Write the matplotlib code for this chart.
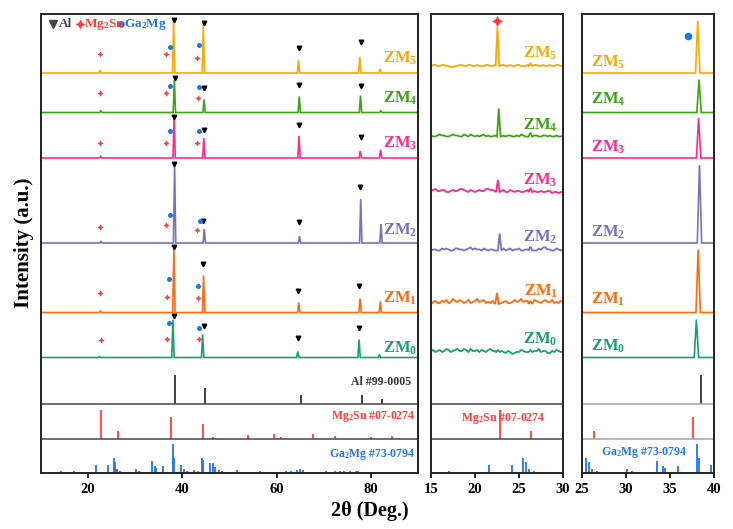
import numpy as np
import matplotlib
matplotlib.use("Agg")
import matplotlib.pyplot as plt

plt.rcParams['font.family'] = ['Liberation Serif', 'DejaVu Serif']
plt.rcParams['font.weight'] = 'bold'
plt.rcParams['mathtext.fontset'] = 'custom'
plt.rcParams['mathtext.rm'] = 'Liberation Serif:bold'
plt.rcParams['mathtext.it'] = 'Liberation Serif:bold'
plt.rcParams['mathtext.bf'] = 'Liberation Serif:bold'

# ---- data -------------------------------------------------------------
samples = ['ZM$_0$', 'ZM$_1$', 'ZM$_2$', 'ZM$_3$', 'ZM$_4$', 'ZM$_5$']
colors = ['#1b9e77', '#ff6a0d', '#7b70bd', '#ff2a8c', '#3ca314', '#f5a90a']

# reflections seen in the samples (2theta, deg) and their heights (a.u.)
peak_pos = [22.6, 38.2, 44.5, 64.7, 77.7, 82.0]
peak_shift = [-0.2, 0.0, 0.15, 0.05, 0.1, -0.05]
peak_height = [
    [1, 38, 23, 6, 18, 3],      # ZM0
    [1.5, 63, 37, 10, 14, 11],  # ZM1
    [1.5, 78, 14, 7, 44, 19],   # ZM2
    [1.5, 40, 20, 22, 7, 8],    # ZM3
    [2, 33, 13, 16, 17, 2],     # ZM4
    [3, 52, 48, 13, 16, 4],     # ZM5
]
offset_main = [115.5, 160.5, 230, 315, 360.5, 400]

# magnified 15-30 deg window
mid_pos = [[22.6, 26.3], [22.5, 26.3], [22.8, 26.3], [22.6, 26.3], [22.7, 26.3], [22.55, 26.3]]
mid_height = [[2, 2], [11, 3], [17, 4], [12, 4], [28, 4], [39, 3]]
offset_mid = [121, 169, 222.5, 281, 336.5, 407]
# baseline noise read every 0.25 deg from 15 to 30
mid_noise = [
    [1, 2, 0, 1, 2, 0, 1, 3, 2, 0, 1, 2, 3, 1, 1, 3, 2, 0, 3, 1, 1, 2, 0, 2, 1, 0, 2, 3, 1, 1, 0,
     2, 1, 0, -1, 1, 0, -2, -1, 0, 0, 2, 1, 0, 0, 2, 2, 1, 1, 3, 0, 1, 1, -1, -1, 1, 0, 2, 1, 0, 0],
    [0, 2, 3, 1, 1, 3, 2, 4, 1, 2, 5, 3, 2, 4, 3, 1, 2, 4, 1, 2, 3, 5, 2, 3, 4, 1, 2, 1, 3, 2, 1,
     0, 1, 2, 3, 1, 1, 2, 4, 2, 3, 5, 2, 3, 3, 5, 2, 4, 3, 2, 1, 3, 4, 2, 2, 4, 1, 2, 1, 3, 2],
    [0, 1, 1, 0, 0, 2, 1, 2, 1, 0, 0, 2, 2, 1, 1, 0, 1, 2, 3, 1, 2, 1, 1, 0, 2, 1, 0, 1, 1, 0, 0,
     1, 1, 2, 0, 1, 2, 0, 1, 1, 2, 0, 0, 1, 1, 2, 2, 0, 0, 2, 1, 3, 3, 1, 1, 0, 0, 2, 1, 0, 1],
    [1, 2, 3, 1, 1, 2, 2, 0, 0, 1, 2, 1, 1, 3, 3, 2, 1, 0, 2, 1, 0, 1, 2, 1, 1, 3, 3, 2, 2, 1, 1,
     0, 1, 2, 0, 0, 2, 1, 0, 1, 1, 0, 0, 1, 2, 0, 1, 1, 0, 0, 1, 0, 0, 1, 1, -1, 0, 0, -1, 0, 0],
    [1, 0, 0, 1, 2, 1, 1, 0, 0, 1, 2, 1, 1, 0, 0, 2, 1, 0, 2, 1, 0, 1, 0, 1, 2, 0, 1, 0, 0, 1, 1,
     2, 0, 1, 0, 1, 1, 0, 0, 1, 0, 2, 1, 0, 0, 1, 2, 1, 1, 0, 0, 1, 1, 0, 1, 0, 0, 1, 0, 0, 1],
    [0, 1, 1, 0, 0, 1, 1, 0, 0, -1, -1, 0, 0, 1, 1, 0, 0, 1, 1, 0, 0, 1, 0, 0, 0, 1, 1, 0, 0, 1, 0,
     0, 1, 1, 0, 0, 1, 0, 0, 1, 1, 0, 0, 0, 1, 0, 0, 1, 1, 0, 0, 1, 0, 0, 1, 0, 0, 1, 1, 0, 0],
]

# standard cards (2theta, relative height)
al_pos = [38.5, 44.7, 65.1, 78.2, 82.4]
al_h = [29, 15.5, 9, 9, 5]
mg2sn_pos = [22.8, 26.4, 37.6, 44.4, 46.4, 54.0, 59.4, 61.0, 67.7, 72.4, 80.0, 84.5, 86.0]
mg2sn_h = [29, 8, 22, 15, 1.5, 3.5, 4.5, 1.5, 4.5, 3, 2, 3, 1]
ga2mg_pos = [14.2, 17.0, 21.6, 24.2, 25.4, 25.8, 26.1, 26.7, 27.5, 28.4, 30.1, 30.7,
             33.5, 34.2, 34.4, 35.9, 38.1, 38.3, 39.7, 40.3, 41.0, 42.5, 43.3, 44.1,
             44.4, 45.8, 46.5, 47.0, 47.8, 48.4, 51.5, 52.6, 53.5, 55.1, 56.5, 57.8,
             59.2, 60.6, 62.0, 63.0, 64.4, 64.9, 65.5, 66.2, 70.5, 71.5, 72.4, 73.5,
             74.3, 75.5, 76.8, 77.3, 78.5, 80.2, 82.0, 84.5, 86.0, 88.0, 89.5]
ga2mg_h = [2, 2, 8.5, 8, 15, 11, 4, 2, 1.5, 1.5, 4.5, 2,
           12.5, 7, 5, 7.5, 29, 15, 8.5, 4, 2, 3, 2, 15,
           13, 10, 10, 6, 3, 2, 3, 1.5, 1.5, 1.5, 2, 1.5,
           1.5, 1.5, 2, 2, 3.5, 4, 3, 1.5, 2, 1.5, 2.5, 2.5,
           2, 2.5, 2, 2.5, 1.5, 1.5, 1.5, 1.5, 1.5, 1.5, 1.5]
off_al, off_mg2sn, off_ga2mg = 69.5, 34.5, 0

# phase markers in the wide panel (2theta, height)
al_marks = [(38.3, 453), (44.6, 450), (64.7, 425), (77.8, 431),
            (38.4, 395), (44.6, 385), (64.8, 388), (77.8, 387),
            (38.3, 356), (44.6, 343), (64.8, 348), (77.8, 336),
            (38.3, 309), (44.4, 252), (64.7, 251), (77.7, 286),
            (38.2, 226), (44.4, 209), (64.6, 182), (77.4, 187),
            (38.2, 157), (44.5, 147), (64.6, 135), (77.5, 145)]
ga2mg_marks = [(37.4, 426), (43.6, 428), (37.4, 387), (43.6, 386), (37.4, 342), (43.6, 342),
               (37.4, 258), (43.7, 252), (37.2, 194), (43.4, 187), (37.2, 150), (43.6, 145)]
mg2sn_marks = [(22.5, 419), (36.6, 419), (43.0, 415), (22.5, 380), (36.5, 380), (43.3, 375),
               (22.5, 330), (36.5, 330), (43.0, 330), (22.5, 246), (36.5, 248), (43.2, 243),
               (22.6, 180), (36.7, 176), (43.4, 175), (22.7, 133), (36.7, 134), (43.5, 134)]

label_y_main = [120, 170, 238, 325, 370, 410]
label_y_mid = [129, 177, 231, 288, 343, 415]
label_y_right = [122, 169, 236, 321, 369, 406]

AL_C, MG_C, GA_C = '#333333', '#ff3b3b', '#1f74f0'


def trace(ax, pos, hgt, base, color, grid, noise, half=0.25, lw=1.2):
    pts = []
    for p, h in zip(pos, hgt):
        pts += [(p - half, 0), (p, h), (p + half, 0)]
    for g, n in zip(grid, noise):
        if min(abs(g - p) for p in pos) > half + 0.05:
            pts.append((g, n))
    pts.sort()
    x, y = zip(*pts)
    ax.plot(x, base + np.array(y), color=color, lw=lw, solid_joinstyle='miter')


def cards(ax, base_color):
    ax.vlines(al_pos, off_al, off_al + np.array(al_h), color=AL_C, lw=1.3)
    ax.vlines(mg2sn_pos, off_mg2sn, off_mg2sn + np.array(mg2sn_h), color=MG_C, lw=1.3)
    ax.vlines(ga2mg_pos, off_ga2mg, off_ga2mg + np.array(ga2mg_h), color=GA_C, lw=1.3)
    ax.axhline(off_al, color=base_color, lw=1.2)
    ax.axhline(off_mg2sn, color=base_color, lw=1.2)


def style(ax, xlim, xticks):
    ax.set_xlim(*xlim)
    ax.set_ylim(0, 459)
    ax.set_yticks([])
    ax.set_xticks(xticks)
    ax.tick_params(axis='x', direction='out', length=3.5, width=1.2, pad=4, labelsize=10.5)
    for s in ax.spines.values():
        s.set_linewidth(1.4)
        s.set_color('#222222')


fig = plt.figure(figsize=(7.33, 5.29), dpi=100)
ax1 = fig.add_axes([41 / 733, 56 / 529, 377 / 733, 459 / 529])
ax2 = fig.add_axes([431 / 733, 56 / 529, 132 / 733, 459 / 529])
ax3 = fig.add_axes([582 / 733, 56 / 529, 132 / 733, 459 / 529])

# wide panel
for i in range(6):
    pos = [p + peak_shift[i] for p in peak_pos]
    trace(ax1, pos, peak_height[i], offset_main[i], colors[i], [10, 90], [0, 0])
    ax1.text(82.6, label_y_main[i], samples[i], color=colors[i], fontsize=12,
             ha='left', va='baseline')
cards(ax1, '#555555')
ax1.plot(*zip(*al_marks), 'v', color='black', ms=3.3, ls='none')
ax1.plot(*zip(*ga2mg_marks), 'o', color=GA_C, ms=3.6, mec='none', ls='none')
ax1.plot(*zip(*mg2sn_marks), marker=(4, 1, 0), color=MG_C, ms=4.5, mec='none', ls='none')
ax1.text(88.6, 91, 'Al #99-0005', color=AL_C, fontsize=8.5, ha='right', va='center')
ax1.text(89.5, 56, 'Mg$_2$Sn #07-0274', color=MG_C, fontsize=8.5, ha='right', va='center')
ax1.text(89.5, 19, 'Ga$_2$Mg #73-0794', color=GA_C, fontsize=8.5, ha='right', va='center')
# legend row
ax1.plot(12.5, 449, 'v', color='#444444', ms=5.5)
ax1.text(13.7, 449, 'Al', color='#444444', fontsize=9.5, va='center')
ax1.plot(18.3, 449, marker=(4, 1, 0), color=MG_C, ms=7, mec='none')
ax1.text(19.2, 449, 'Mg$_2$Sn', color=MG_C, fontsize=9.5, va='center')
ax1.plot(26.9, 449, 'o', color=GA_C, ms=4.8, mec='none')
ax1.text(27.7, 449, 'Ga$_2$Mg', color=GA_C, fontsize=9.5, va='center')
style(ax1, (10, 90), [20, 40, 60, 80])

# 15-30 deg panel
for i in range(6):
    grid = np.linspace(15, 30, len(mid_noise[i]))
    trace(ax2, mid_pos[i], mid_height[i], offset_mid[i], colors[i], grid, mid_noise[i],
          half=0.2, lw=1.3)
    ax2.text(29.4, label_y_mid[i], samples[i], color=colors[i], fontsize=12,
             ha='right', va='baseline')
cards(ax2, '#555555')
ax2.plot(22.5, 452, marker=(4, 1, 0), color=MG_C, ms=8, mec='none')
ax2.text(23.2, 55, 'Mg$_2$Sn #07-0274', color=MG_C, fontsize=8.5, ha='center', va='center')
style(ax2, (15, 30), [15, 20, 25, 30])

# 25-40 deg panel
for i in range(6):
    pos = [p + peak_shift[i] for p in peak_pos]
    trace(ax3, pos, peak_height[i], offset_main[i], colors[i], [25, 40], [0, 0])
    ax3.text(26.07, label_y_right[i], samples[i], color=colors[i], fontsize=12,
             ha='left', va='baseline')
cards(ax3, '#aaaaaa')
ax3.plot(37.0, 437, 'o', color=GA_C, ms=5.5, mec='none')
ax3.text(32.05, 21, 'Ga$_2$Mg #73-0794', color=GA_C, fontsize=8.5, ha='center', va='center')
style(ax3, (25, 40), [25, 30, 35, 40])

fig.text(0.033, 1 - 243 / 529, 'Intensity (a.u.)', rotation=90, fontsize=15,
         ha='center', va='center')
fig.text(370 / 733, 1 - 511 / 529, '2θ (Deg.)', fontsize=14.5, ha='center', va='center')

fig.savefig('out.png', dpi=100)
